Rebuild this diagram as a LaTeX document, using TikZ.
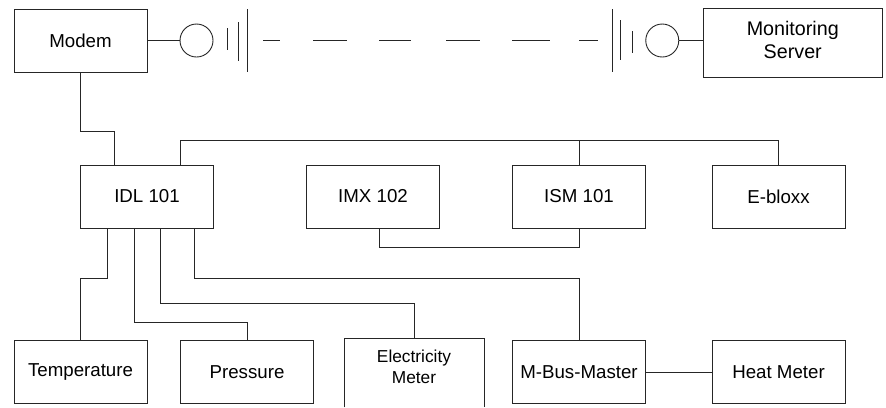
\documentclass[tikz,border=0pt]{standalone}
\usepackage{fontspec}
\setmainfont{Liberation Sans}
\usetikzlibrary{calc}
\tikzset{
  box/.style={draw=black!85,line width=0.9bp,inner sep=0pt,align=center,
    minimum width=133bp,minimum height=63bp,font=\fontsize{18.7bp}{22bp}\selectfont},
  port/.style={draw=black!85,line width=0.9bp,circle,inner sep=0pt,minimum size=33bp},
  wire/.style={draw=black!85,line width=0.9bp},
}
\begin{document}
\begin{tikzpicture}[x=1bp,y=-1bp]
\useasboundingbox (0,0) rectangle (886,407);
% boxes
\node[box] (modem) at (80.5,40.5) {Modem};
\node[box,minimum width=178.5bp,minimum height=69bp,font=\fontsize{19.7bp}{23bp}\selectfont] (server) at (792.75,42.5) {\raisebox{2.5bp}{\begin{tabular}{@{}c@{}}Monitoring\\Server\end{tabular}}};
\node[box] (idl) at (147,196.5) {IDL 101};
\node[box] (imx) at (373,196.5) {IMX 102};
\node[box] (ism) at (579,196.5) {ISM 101};
\node[box] (ebloxx) at (778.5,196.5) {E-bloxx};
\node[box] (temp) at (80.5,372) {Temperature};
\node[box] (press) at (247,372) {Pressure};
\node[box,draw=none,minimum width=139bp,minimum height=68bp,
  font=\fontsize{17.3bp}{21bp}\selectfont] (elec) at (414,373) {\raisebox{4.5bp}[\height][\depth]{\begin{tabular}{@{}c@{}}Electricity\\Meter\end{tabular}}};
\node[box] (mbus) at (579,372) {M-Bus-Master};
\node[box] (heat) at (778.5,372) {Heat Meter};
% open-bottom box
\draw[wire] (elec.south west) -- (elec.north west) -- (elec.north east) -- (elec.south east);
% link symbols
\node[port] (pl) at (196.5,40.5) {};
\node[port] (pr) at (662.25,40.5) {};
\draw[wire] (modem.east |- pl.west) -- (pl.west);
\draw[wire] (pr.east) -- (server.west |- pr.east);
\draw[wire] (227,28) -- (227,50);
\draw[wire] (238.5,22) -- (238.5,61);
\draw[wire] (247,9) -- (247,72);
\draw[wire] (612,9) -- (612,72);
\draw[wire] (620.5,20) -- (620.5,60);
\draw[wire] (632.5,31) -- (632.5,53);
\coordinate (dl) at (263,40.5);
\coordinate (dr) at (598,40.5);
\draw[wire,dash pattern=on 17bp off 33bp on 34bp off 32bp on 32bp off 35bp on 34bp off 32bp on 38bp off 29bp on 30bp off 10bp] (dl) -- (dr);
% connectors
\draw[wire] (modem.south) -- ++(0,59) -| ([xshift=-33bp]idl.north);
\draw[wire] ([xshift=33.5bp]idl.north) -- ++(0,-24.5) -| (ebloxx.north);
\draw[wire] (ism.north) -- ++(0,-24.5);
\draw[wire] (imx.south) ++(6.5,0) -- ++(0,19) -| (ism.south);
\draw[wire] ([xshift=-39.5bp]idl.south) -- ++(0,50) -| (temp.north);
\draw[wire] ([xshift=-13bp]idl.south) -- ++(0,93.5) -| (press.north);
\draw[wire] ([xshift=13.5bp]idl.south) -- ++(0,75) -| (elec.north);
\draw[wire] ([xshift=47bp]idl.south) -- ++(0,50) -| (mbus.north);
\draw[wire] (mbus.east) -- (heat.west);
\end{tikzpicture}
\end{document}
